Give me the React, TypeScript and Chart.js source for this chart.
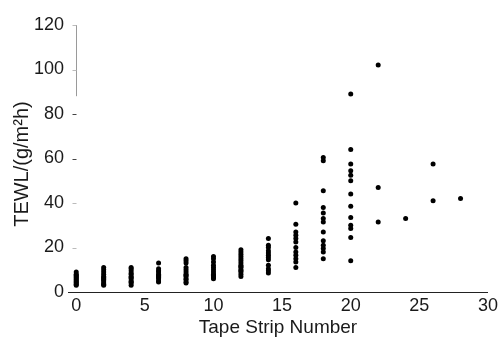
import { useEffect, useRef } from "react";
import { Chart, registerables } from "chart.js";

Chart.register(...registerables);

// Tape strip numbers (x) and the TEWL readings observed at each strip (y)
const stripNumbers = [0, 2, 4, 6, 8, 10, 12, 14, 16, 18, 20, 22, 24, 26, 28];

const tewlStrip0 = [3, 3.5, 4, 4.5, 5, 5.5, 6, 6.5, 7, 7.5, 8, 9];
const tewlStrip2 = [3, 3.5, 4, 5, 5.5, 6, 6.5, 7, 8, 9, 10, 11];
const tewlStrip4 = [3, 4, 4.5, 5, 6, 6.5, 7, 8, 8.5, 9.5, 10.5, 11];
const tewlStrip6 = [4.5, 5, 6, 6.5, 7, 7.5, 8, 9, 9.5, 10.5, 13];
const tewlStrip8 = [4, 4.5, 5.5, 6, 7, 7.5, 8, 9, 10, 11, 13, 14, 15];
const tewlStrip10 = [6, 6.5, 7, 7.5, 8, 9, 10, 11, 12, 13.5, 15, 16];
const tewlStrip12 = [7, 8, 9, 9.5, 10, 11, 11.5, 12, 13, 14, 15, 16, 17, 18, 19];
const tewlStrip14 = [8.5, 9.5, 10.5, 12, 14.5, 15.5, 16.5, 17.5, 18.5, 20, 21, 24];
const tewlStrip16 = [11, 13.5, 15, 16.5, 18, 20, 22.5, 24, 25.5, 27, 30.5, 40];
const tewlStrip18 = [15, 18, 19.5, 21, 23, 27, 31.5, 33, 35.5, 38, 45.5, 59, 60.5];
const tewlStrip20 = [14, 24.5, 28.5, 30, 33.5, 38.5, 44, 50, 52.5, 54.5, 57.5, 64, 89];
const tewlStrip22 = [31.5, 47, 102];
const tewlStrip24 = [33];
const tewlStrip26 = [41, 57.5];
const tewlStrip28 = [42];

const tewlValues = [
  tewlStrip0, tewlStrip2, tewlStrip4, tewlStrip6, tewlStrip8, tewlStrip10,
  tewlStrip12, tewlStrip14, tewlStrip16, tewlStrip18, tewlStrip20,
  tewlStrip22, tewlStrip24, tewlStrip26, tewlStrip28,
];

const xTicks = [0, 5, 10, 15, 20, 25, 30];
const yTicks = [0, 20, 40, 60, 80, 100, 120];
const xTitle = "Tape Strip Number";
const yTitle = "TEWL/(g/m²h)  ";

const FONT = "'Liberation Sans', Arial, Helvetica, sans-serif";
const INK = "#1a1a1a";

export default function App() {
  const ref = useRef<HTMLCanvasElement | null>(null);

  useEffect(() => {
    if (!ref.current) return;
    const points = stripNumbers.flatMap((s, i) =>
      tewlValues[i].map((v) => ({ x: s, y: v }))
    );

    const partialAxis = {
      id: "partialAxis",
      afterDraw(chart: any) {
        const { ctx, scales } = chart;
        const x = scales.x;
        const y = scales.y;
        const px = Math.round(x.getPixelForValue(0)) + 0.5;
        ctx.save();
        ctx.strokeStyle = "#9a9a9a";
        ctx.lineWidth = 1;
        ctx.beginPath();
        ctx.moveTo(px, y.getPixelForValue(120));
        ctx.lineTo(px, y.getPixelForValue(88));
        ctx.stroke();
        yTicks.forEach((v) => {
          if (v === 0) return;
          const py = Math.round(y.getPixelForValue(v)) + 0.5;
          ctx.strokeStyle = v === 60 || v === 80 ? "#444" : "#bbb";
          ctx.beginPath();
          ctx.moveTo(px - 4, py);
          ctx.lineTo(px, py);
          ctx.stroke();
        });
        ctx.restore();
      },
    };

    const chart = new Chart(ref.current, {
      type: "scatter",
      data: {
        datasets: [
          {
            data: points,
            backgroundColor: "#000",
            borderWidth: 0,
            pointRadius: 2.5,
            pointHoverRadius: 2.5,
          },
        ],
      },
      options: {
        responsive: false,
        animation: false,
        events: [],
        layout: { padding: { top: 25, right: 13, left: 0, bottom: 0 } },
        plugins: {
          legend: { display: false },
          tooltip: { enabled: false },
          title: { display: false },
        },
        scales: {
          x: {
            type: "linear",
            min: -0.6,
            max: 30,
            afterBuildTicks: (s: any) => {
              s.ticks = xTicks.map((v) => ({ value: v }));
            },
            afterFit: (s: any) => {
              s.height = 47;
            },
            grid: { display: false, drawTicks: false },
            border: { display: true, color: "#222", width: 1 },
            ticks: {
              padding: 3,
              color: INK,
              maxRotation: 0,
              autoSkip: false,
              font: { family: FONT, size: 18 },
            },
            title: {
              display: true,
              text: xTitle,
              color: INK,
              font: { family: FONT, size: 19 },
              padding: { top: 0, bottom: 0 },
            },
          },
          y: {
            type: "linear",
            min: 0,
            max: 120,
            afterBuildTicks: (s: any) => {
              s.ticks = yTicks.map((v) => ({ value: v }));
            },
            afterFit: (s: any) => {
              s.width = 68;
            },
            grid: { display: false, drawTicks: false },
            border: { display: false },
            ticks: {
              padding: 4,
              color: INK,
              autoSkip: false,
              font: { family: FONT, size: 18 },
            },
            title: {
              display: true,
              text: yTitle,
              color: INK,
              font: { family: FONT, size: 20 },
              padding: { top: 10, bottom: 0 },
            },
          },
        },
      },
      plugins: [partialAxis],
    });

    return () => chart.destroy();
  }, []);

  return (
    <div style={{ position: "absolute", left: 0, top: 0, width: 501, height: 339, background: "#fff" }}>
      <canvas ref={ref} width={501} height={339} style={{ display: "block" }} />
    </div>
  );
}
